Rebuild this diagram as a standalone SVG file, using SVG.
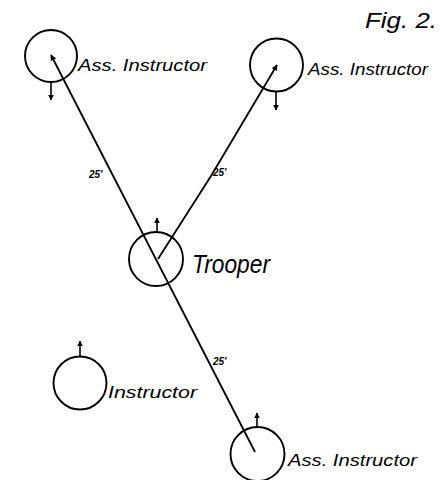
<svg xmlns="http://www.w3.org/2000/svg" width="443" height="480" viewBox="0 0 443 480">
<style>
.c{fill:none;stroke:#000;stroke-width:1.9}
.l{fill:none;stroke:#000;stroke-width:1.8}
.a{fill:none;stroke:#000;stroke-width:1.6}
.t{font-family:"Liberation Sans",Arial,sans-serif;font-style:italic;fill:#000}
.n{font-family:"Liberation Sans",Arial,sans-serif;font-style:italic;font-weight:bold;font-size:10px;fill:#000}
</style>
<defs>
<marker id="ah" viewBox="0 0 10 10" refX="9" refY="5" markerWidth="6" markerHeight="6" markerUnits="userSpaceOnUse" orient="auto-start-reverse">
<path d="M0,0 L10,5 L0,10 Z" fill="#000"/>
</marker>
</defs>
<rect width="443" height="480" fill="#fff"/>
<text class="t" x="365" y="28" font-size="22" textLength="72" lengthAdjust="spacingAndGlyphs">Fig. 2.</text>
<g id="connectors">
<path class="l" d="M51,55 L255,452" marker-start="url(#ah)"/>
<path class="l" d="M277,65 L211,176 L158,259" marker-start="url(#ah)"/>
<text class="n" x="89" y="178">25'</text>
<text class="n" x="213" y="176">25'</text>
<text class="n" x="213" y="365">25'</text>
</g>
<g id="ass-instructor-tl">
<circle class="c" cx="51" cy="56" r="26"/>
<path class="a" d="M51,82 L51,100" marker-end="url(#ah)"/>
<text class="t" x="78" y="71" font-size="16" textLength="129" lengthAdjust="spacingAndGlyphs">Ass. Instructor</text>
</g>
<g id="ass-instructor-tr">
<circle class="c" cx="276.5" cy="65" r="26.5"/>
<path class="a" d="M276,92 L276,110" marker-end="url(#ah)"/>
<text class="t" x="308" y="75" font-size="16" textLength="120" lengthAdjust="spacingAndGlyphs">Ass. Instructor</text>
</g>
<g id="trooper">
<circle class="c" cx="156" cy="259" r="27"/>
<path class="a" d="M157,232 L157,218" marker-end="url(#ah)"/>
<text class="t" x="192" y="273" font-size="25" textLength="78" lengthAdjust="spacingAndGlyphs">Trooper</text>
</g>
<g id="instructor">
<circle class="c" cx="80" cy="383" r="26.5"/>
<path class="a" d="M80,356 L80,341" marker-end="url(#ah)"/>
<text class="t" x="108" y="398" font-size="16" textLength="89" lengthAdjust="spacingAndGlyphs">Instructor</text>
</g>
<g id="ass-instructor-b">
<circle class="c" cx="257.5" cy="454" r="27"/>
<path class="a" d="M257,427 L257,413" marker-end="url(#ah)"/>
<text class="t" x="288" y="466" font-size="16" textLength="129" lengthAdjust="spacingAndGlyphs">Ass. Instructor</text>
</g>
</svg>
